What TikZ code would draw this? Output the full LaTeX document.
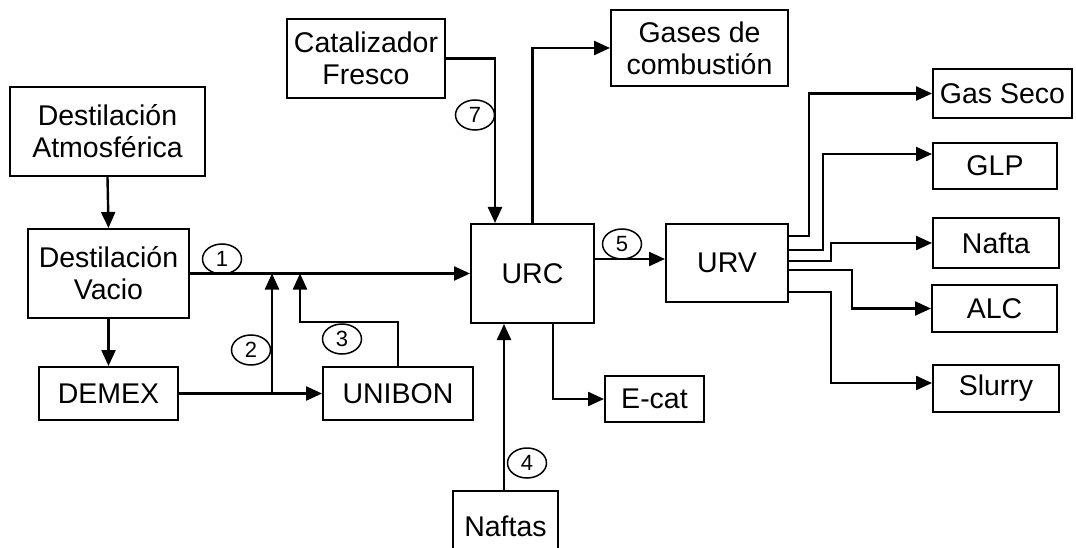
\documentclass[tikz,border=0pt]{standalone}
\usepackage{fontspec}
\setmainfont{Liberation Sans}
\usetikzlibrary{arrows.meta,shapes.geometric}
\begin{document}
\begin{tikzpicture}[x=1pt,y=-1pt,
  box/.style={draw,line width=2pt,inner sep=0pt,align=center,
    font=\fontsize{28.5}{32}\selectfont},
  flow/.style={line width=2.4pt,-{Triangle[length=16pt,width=14pt]}},
  tag/.style={draw,ellipse,line width=1.5pt,minimum width=39pt,
    minimum height=30pt,inner sep=0pt,font=\fontsize{22}{22}\selectfont}]
\clip (0,0) rectangle (1076,548);

% process units
\node[box,minimum width=195pt,minimum height=89pt] (atm) at (107.5,131.5) {Destilación\\Atmosférica};
\node[box,minimum width=161pt,minimum height=89pt] (vac) at (108.5,273.5) {Destilación\\Vacio};
\node[box,minimum width=139pt,minimum height=53pt] (demex) at (108.5,393.5) {DEMEX};
\node[box,minimum width=150pt,minimum height=53pt] (unibon) at (398,393.5) {UNIBON};
\node[box,minimum width=158pt,minimum height=79pt] (cat) at (366,58.5) {Catalizador\\Fresco};
\node[box,minimum width=177pt,minimum height=76pt] (gases) at (699.5,48) {Gases de\\combustión};
\node[box,minimum width=123pt,minimum height=99pt] (urc) at (532.5,273.5) {URC};
\node[box,minimum width=122pt,minimum height=78pt] (urv) at (727,263) {URV};
\node[box,minimum width=99pt,minimum height=46pt] (ecat) at (654.5,399) {E-cat};
\node[box,minimum width=105pt,minimum height=70pt] (naftas) at (505.5,526) {Naftas};

% products
\node[box,minimum width=139pt,minimum height=49pt] (gasseco) at (1002.5,93.5) {Gas Seco};
\node[box,minimum width=124pt,minimum height=46pt] (glp) at (995,166) {GLP};
\node[box,minimum width=126pt,minimum height=50pt] (nafta) at (996,243) {Nafta};
\node[box,minimum width=125pt,minimum height=47pt] (alc) at (994.5,308.5) {ALC};
\node[box,minimum width=126pt,minimum height=47pt] (slurry) at (996,388.5) {Slurry};

% junctions
\coordinate (j2) at (272,393.5);
\coordinate (j3) at (300,322);
\coordinate (u5) at ([yshift=14.5pt]urc.east);

% feed lines
\draw[flow] (atm.south) -- (vac.north);
\draw[flow] (vac.south) -- (demex.north);
\draw[flow] (vac.east) -- (urc.west);
\draw[flow] (demex.east) -- (unibon.west);
\draw[flow] (j2) -- (j2 |- vac.east);
\draw[flow] (unibon.north) |- (j3) -- (j3 |- vac.east);
\draw[flow] (cat.east) -| ([xshift=-37.5pt]urc.north);
\draw[flow] (urc.north) |- (gases.west);
\draw[flow] (u5) -- (u5 -| urv.west);
\draw[flow] ([xshift=20.5pt]urc.south) |- (ecat.west);
\draw[flow] ([xshift=-1.5pt]naftas.north) -- ([xshift=-1.5pt]naftas.north |- urc.south);

% product lines
\draw[flow] ([yshift=27pt]urv.east) -| ([xshift=-123pt]gasseco.west) -- (gasseco.west);
\draw[flow] ([yshift=13pt]urv.east) -| ([xshift=-109pt,yshift=12pt]glp.west) -- ([yshift=12pt]glp.west);
\draw[flow] ([yshift=2pt]urv.east) -| ([xshift=-101pt]nafta.west) -- (nafta.west);
\draw[flow] ([yshift=-7pt]urv.east) -| ([xshift=-79pt]alc.west) -- (alc.west);
\draw[flow] ([yshift=-29pt]urv.east) -| ([xshift=-101pt,yshift=5.5pt]slurry.west) -- ([yshift=5.5pt]slurry.west);

% stream numbers
\node[tag] (s1) at (222,259) {1};
\node[tag] (s2) at (251,350) {2};
\node[tag] (s3) at (342,339) {3};
\node[tag] (s4) at (527,463) {4};
\node[tag] (s5) at (622,244) {5};
\node[tag] (s7) at (475,115) {7};
\end{tikzpicture}
\end{document}
